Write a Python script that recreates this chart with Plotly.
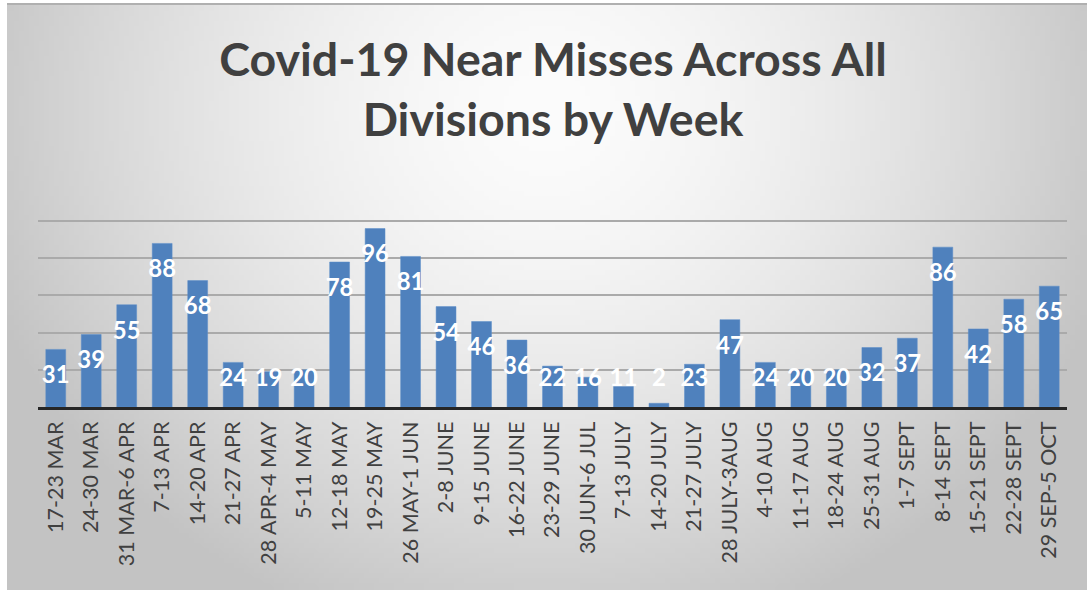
import base64
import math
import struct
import zlib

import plotly.graph_objects as go

# ---------------- data ----------------
weeks = ["17-23 MAR", "24-30 MAR", "31 MAR-6 APR", "7-13 APR", "14-20 APR",
         "21-27 APR", "28 APR-4 MAY", "5-11 MAY", "12-18 MAY", "19-25 MAY",
         "26 MAY-1 JUN", "2-8 JUNE", "9-15 JUNE", "16-22 JUNE", "23-29 JUNE",
         "30 JUN-6 JUL", "7-13 JULY", "14-20 JULY", "21-27 JULY", "28 JULY-3AUG",
         "4-10 AUG", "11-17 AUG", "18-24 AUG", "25-31 AUG", "1-7 SEPT",
         "8-14 SEPT", "15-21 SEPT", "22-28 SEPT", "29 SEP-5 OCT"]
near_misses = [31, 39, 55, 88, 68, 24, 19, 20, 78, 96, 81, 54, 46, 36, 22,
               16, 11, 2, 23, 47, 24, 20, 20, 32, 37, 86, 42, 58, 65]
title_text = "Covid-19 Near Misses Across All<br>Divisions by Week"

# ---------------- layout geometry (pixels) ----------------
W, H = 1087, 590
ML, MR, MT, MB = 38, 20, 220, 183
PW, PH = W - ML - MR, H - MT - MB


def px_x(p):
    return (p - ML) / PW


def px_y(p):
    return (H - MB - p) / PH


# ---------------- radial gradient background as PNG ----------------
def gradient_png(w, h):
    rows = []
    for j in range(h):
        y = j / (h - 1)
        row = bytearray([0])
        for i in range(w):
            x = i / (w - 1)
            d = math.sqrt(((x - 0.5) / 0.56) ** 2 + ((y - 0.18) / 0.95) ** 2)
            v = 252 - 58 * (d ** 1.6)
            v = int(max(195, min(252, v)))
            row += bytes([v, v, v])
        rows.append(bytes(row))
    raw = b"".join(rows)

    def chunk(tag, data):
        c = tag + data
        return struct.pack(">I", len(data)) + c + struct.pack(">I", zlib.crc32(c) & 0xffffffff)

    png = b"\x89PNG\r\n\x1a\n"
    png += chunk(b"IHDR", struct.pack(">IIBBBBB", w, h, 8, 2, 0, 0, 0))
    png += chunk(b"IDAT", zlib.compress(raw, 9))
    png += chunk(b"IEND", b"")
    return "data:image/png;base64," + base64.b64encode(png).decode()


bg_src = gradient_png(216, 118)

# label positions: inside near top of bar, kept above the baseline for short bars
label_y = [max(v - 15, 14.5) for v in near_misses]

fig = go.Figure()
fig.add_trace(go.Bar(
    x=weeks, y=near_misses,
    marker=dict(color="#4F81BD", line=dict(color="#5B8CC8", width=0.5)),
    hoverinfo="x+y",
))
fig.add_trace(go.Scatter(
    x=weeks, y=label_y, mode="text",
    text=[str(v) for v in near_misses],
    textfont=dict(family="Lato, 'Open Sans', sans-serif", size=24, color="white", weight="bold"),
    cliponaxis=False, hoverinfo="skip",
))

fig.update_layout(
    width=W, height=H,
    margin=dict(l=ML, r=MR, t=MT, b=MB, pad=0, autoexpand=False),
    paper_bgcolor="white",
    plot_bgcolor="rgba(0,0,0,0)",
    showlegend=False,
    bargap=0.44,
    title=dict(
        text=title_text,
        font=dict(family="Lato, 'Open Sans', sans-serif", size=46.5, color="#404040", weight="bold"),
        xref="container", x=553 / W, xanchor="center",
        yref="container", y=1 - 76 / H, yanchor="top",
        automargin=False,
    ),
    xaxis=dict(
        type="category", automargin=False,
        range=[-0.5, len(weeks) - 0.5],
        showline=True, linecolor="#262626", linewidth=3,
        showgrid=False, ticks="", tickangle=-90,
        tickfont=dict(family="Lato, 'Open Sans', sans-serif", size=21.5, color="#404040"),
        ticklabelstandoff=3,
    ),
    yaxis=dict(
        range=[0, 100.6], dtick=20, showticklabels=False, automargin=False,
        showgrid=True, gridcolor="#aaaaaa", gridwidth=2,
        zeroline=False, showline=False, ticks="",
    ),
    images=[dict(
        source=bg_src, xref="paper", yref="paper",
        x=px_x(7), y=px_y(4), sizex=(W - 7) / PW, sizey=(H - 4) / PH,
        xanchor="left", yanchor="top", sizing="stretch", layer="below",
    )],
    shapes=[dict(
        type="line", xref="paper", yref="paper",
        x0=px_x(7), x1=px_x(W), y0=px_y(4), y1=px_y(4),
        line=dict(color="#b0b0b0", width=2), layer="below",
    )],
)

fig.write_html(
    "out.html",
    config={"displayModeBar": False},
    post_script="document.body.style.margin='0';document.body.style.overflow='hidden';",
)
